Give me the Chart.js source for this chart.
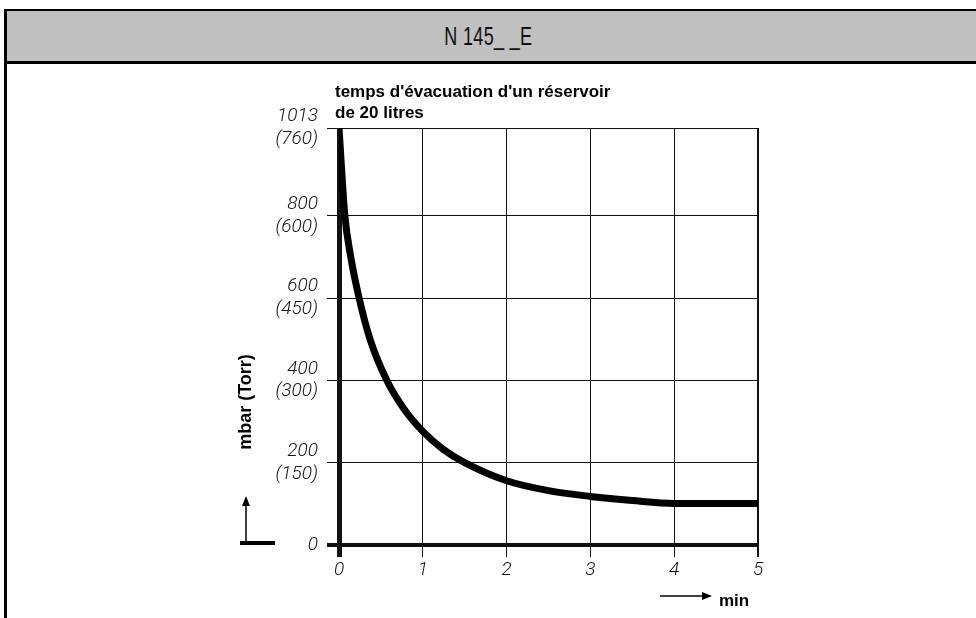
<!DOCTYPE html>
<html>
<head>
<meta charset="utf-8">
<script src="https://cdn.jsdelivr.net/npm/chart.js@4/dist/chart.umd.min.js"></script>
<style>
  html, body { margin: 0; padding: 0; background: #fff; }
  #wrap { position: relative; width: 976px; height: 618px; overflow: hidden; }
  #chart { position: absolute; left: 0; top: 0; }
  #header {
    position: absolute; left: 4px; top: 9px; width: 980px; height: 50px;
    background: #c0c0c0; border-top: 2px solid #000; border-bottom: 3px solid #000;
    border-left: 3px solid #000;
    text-align: center; line-height: 50px;
    font-family: "Liberation Sans", Arial, sans-serif; font-size: 25px; color: #111;
  }
  #header span { display: inline-block; margin-left: -18px; transform: scaleX(0.72); letter-spacing: 0.5px; }
  #leftline { position: absolute; left: 4px; top: 9px; width: 3px; height: 609px; background: #000; }
</style>
</head>
<body>
<div id="wrap">
  <canvas id="chart" width="976" height="618"></canvas>
  <div id="header"><span>N 145_ _E</span></div>
  <div id="leftline"></div>
</div>
<script>
// evacuation curve
const timeMin  = [0, 0.07, 0.14, 0.24, 0.37, 0.57, 0.78, 1.0, 1.24, 1.5, 2.0, 2.5, 3.0, 3.5, 4.0, 5.0];
const pressure = [1013, 800, 700, 600, 500, 400, 329, 276, 233, 200, 156, 132, 118, 108, 101, 101];

const yTicks   = [0, 200, 400, 600, 800, 1013];
const yMbar    = ['0', '200', '400', '600', '800', '1013'];
const yTorr    = ['', '(150)', '(300)', '(450)', '(600)', '(760)'];
const xTicks   = [0, 1, 2, 3, 4, 5];

const titleLines = ["temps d'évacuation d'un réservoir", 'de 20 litres'];
const yTitle = 'mbar (Torr)';
const xUnit = 'min';

const tickFont = { family: 'Roboto', style: 'italic', weight: 300, size: 19 };

const extras = {
  id: 'extras',
  afterDraw(chart) {
    const ctx = chart.ctx;
    const a = chart.chartArea;
    ctx.save();
    ctx.fillStyle = '#000';
    ctx.strokeStyle = '#000';

    // title
    ctx.font = 'bold 17px "Liberation Sans", Arial, sans-serif';
    ctx.textAlign = 'left';
    ctx.textBaseline = 'alphabetic';
    ctx.fillText(titleLines[0], a.left - 4, 97);
    ctx.fillText(titleLines[1], a.left - 4, 118);

    // y title, rotated
    ctx.save();
    ctx.font = 'bold 18px "Liberation Sans", Arial, sans-serif';
    ctx.translate(246, 402);
    ctx.rotate(-Math.PI / 2);
    ctx.textAlign = 'center';
    ctx.textBaseline = 'middle';
    ctx.fillText(yTitle, 0, 0);
    ctx.restore();

    // up arrow with base bar
    ctx.lineWidth = 4;
    ctx.beginPath(); ctx.moveTo(240, a.bottom - 2); ctx.lineTo(275, a.bottom - 2); ctx.stroke();
    ctx.lineWidth = 1.5;
    ctx.beginPath(); ctx.moveTo(246, a.bottom - 2); ctx.lineTo(246, 504); ctx.stroke();
    ctx.beginPath(); ctx.moveTo(246, 496); ctx.lineTo(242, 506); ctx.lineTo(250, 506); ctx.closePath(); ctx.fill();

    // right arrow + min
    ctx.beginPath(); ctx.moveTo(660, 596); ctx.lineTo(704, 596); ctx.stroke();
    ctx.beginPath(); ctx.moveTo(712, 596); ctx.lineTo(702, 592); ctx.lineTo(702, 600); ctx.closePath(); ctx.fill();
    ctx.textAlign = 'left';
    ctx.textBaseline = 'alphabetic';
    ctx.fillText(xUnit, 719, 606);
    ctx.restore();
  }
};

new Chart(document.getElementById('chart'), {
  type: 'line',
  data: {
    datasets: [{
      data: timeMin.map((t, i) => ({ x: t, y: pressure[i] })),
      borderColor: '#000',
      borderWidth: 7,
      pointRadius: 0,
      cubicInterpolationMode: 'monotone',
      fill: false
    }]
  },
  options: {
    responsive: false,
    animation: false,
    layout: { padding: { left: 0, top: 128, right: 218, bottom: 0 } },
    plugins: { legend: { display: false }, tooltip: { enabled: false }, title: { display: false } },
    scales: {
      x: {
        type: 'linear', min: 0, max: 5,
        afterBuildTicks: s => { s.ticks = xTicks.map(v => ({ value: v })); },
        afterFit: s => { s.height = 73; },
        border: { display: false },
        grid: {
          color: '#111',
          lineWidth: c => c.tick && c.tick.value === 0 ? 5 : (c.tick && c.tick.value === 5 ? 2 : 1),
          tickLength: 12
        },
        ticks: { font: tickFont, color: '#111', padding: 2, maxRotation: 0 }
      },
      y: {
        min: 0, max: 1013,
        afterBuildTicks: s => { s.ticks = yTicks.map(v => ({ value: v })); },
        afterFit: s => { s.width = 339; },
        border: { display: false },
        grid: {
          color: '#111',
          lineWidth: c => c.tick && c.tick.value === 0 ? 4 : 1,
          tickLength: 12
        },
        ticks: {
          font: tickFont, color: '#111', padding: 9,
          callback: (v, i) => yTorr[i] ? [yMbar[i], yTorr[i]] : yMbar[i]
        }
      }
    }
  },
  plugins: [extras]
});
</script>
</body>
</html>
